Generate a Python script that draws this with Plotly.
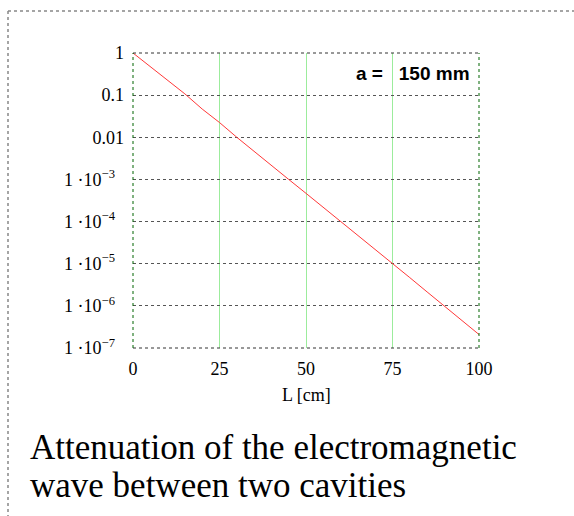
import plotly.graph_objects as go

# ---- data ----
L_cm = [0, 5, 10, 15, 20, 25, 30, 35, 40, 45, 50, 55, 60, 65, 70, 75, 80, 85, 90, 95, 100]
attenuation = [1.0, 0.479, 0.219, 0.107, 0.0468, 0.0224, 0.0100, 4.57e-3, 2.19e-3, 1.0e-3,
               4.68e-4, 2.19e-4, 1.0e-4, 4.57e-5, 2.19e-5, 1.0e-5, 4.68e-6, 2.14e-6,
               1.0e-6, 4.68e-7, 2.09e-7]
x_ticks = [0, 25, 50, 75, 100]
x_ticklabels = ["0", "25", "50", "75", "100"]
y_ticks = [1, 0.1, 0.01, 1e-3, 1e-4, 1e-5, 1e-6, 1e-7]
y_ticklabels = ["1", "0.1", "0.01", "1 ·10<sup>−3</sup>", "1 ·10<sup>−4</sup>",
                "1 ·10<sup>−5</sup>", "1 ·10<sup>−6</sup>", "1 ·10<sup>−7</sup>"]
x_title = "L [cm]"
param_label = "a =&nbsp;&nbsp;&nbsp;150 mm"
caption_lines = ["Attenuation of the electromagnetic", "wave between two cavities"]

# ---- layout geometry (pixels) ----
W, H = 574, 516
ML, MR, MT, MB = 133, 95, 53, 168
PW, PH = W - ML - MR, H - MT - MB

def px(x):
    return (x - ML) / PW

def py(y):
    return 1 - (y - MT) / PH

serif = "Liberation Serif, Times New Roman, serif"

# pad exponent labels on the right so they end a little left of plain labels
y_ticktext = [t + ("&nbsp;&nbsp;" if "sup" in t else "") for t in y_ticklabels]

fig = go.Figure()
fig.add_trace(go.Scatter(x=L_cm, y=attenuation, mode="lines",
                         line=dict(color="#ff3838", width=1), showlegend=False,
                         hoverinfo="skip"))

fig.update_layout(
    width=W, height=H,
    margin=dict(l=ML, r=MR, t=MT, b=MB, autoexpand=False),
    paper_bgcolor="white", plot_bgcolor="white",
    showlegend=False,
    font=dict(family=serif, size=18, color="black"),
)
fig.update_xaxes(range=[0, 100], tickvals=x_ticks, ticktext=x_ticklabels,
                 showgrid=True, gridcolor="#9cec9c", gridwidth=1,
                 showline=False, zeroline=False, ticks="",
                 ticklabelstandoff=8,
                 tickfont=dict(family=serif, size=18, color="black"))
fig.update_yaxes(type="log", range=[-7, 0], tickvals=y_ticks, ticktext=y_ticktext,
                 showgrid=True, gridcolor="#555555", griddash="dot", gridwidth=1,
                 showline=False, zeroline=False, ticks="",
                 ticklabelstandoff=8,
                 tickfont=dict(family=serif, size=18, color="black"))

# inner plot border: dashed
fig.add_shape(type="line", xref="paper", yref="paper", x0=0, x1=1, y0=1, y1=1,
              line=dict(color="#333333", width=1, dash="dot"))
fig.add_shape(type="line", xref="paper", yref="paper", x0=0, x1=1, y0=0, y1=0,
              line=dict(color="#333333", width=1, dash="dot"))
fig.add_shape(type="line", xref="paper", yref="paper", x0=0, x1=0, y0=0, y1=1,
              line=dict(color="#006400", width=1, dash="dot"))
fig.add_shape(type="line", xref="paper", yref="paper", x0=1, x1=1, y0=0, y1=1,
              line=dict(color="#006400", width=1, dash="dot"))

# outer dashed frame (extends beyond the page on the right/bottom)
fig.add_shape(type="line", xref="paper", yref="paper", x0=px(8), x1=px(W + 20),
              y0=py(11), y1=py(11), line=dict(color="#888888", width=1.5, dash="dot"))
fig.add_shape(type="line", xref="paper", yref="paper", x0=px(8), x1=px(8),
              y0=py(11), y1=py(H + 20), line=dict(color="#888888", width=1.5, dash="dot"))

# axis title
fig.add_annotation(text=x_title, xref="paper", yref="paper", x=0.5, y=py(395),
                   xanchor="center", yanchor="middle", showarrow=False,
                   font=dict(family=serif, size=18, color="black"))

# parameter label
fig.add_annotation(text=param_label, xref="paper", yref="paper", x=px(472), y=py(73),
                   xanchor="right", yanchor="middle", showarrow=False,
                   font=dict(family="Liberation Sans, Arial, sans-serif", size=19,
                             color="black", weight="bold"))

# caption
for line_text, cy in zip(caption_lines, [447, 485]):
    fig.add_annotation(text=line_text, xref="paper", yref="paper", x=px(28), y=py(cy),
                       xanchor="left", yanchor="middle", showarrow=False,
                       font=dict(family=serif, size=35, color="black"))

fig.write_html("out.html",
               config={"displayModeBar": False},
               post_script="document.body.style.margin='0';"
                           "document.body.style.padding='0';"
                           "document.documentElement.style.overflow='hidden';")
